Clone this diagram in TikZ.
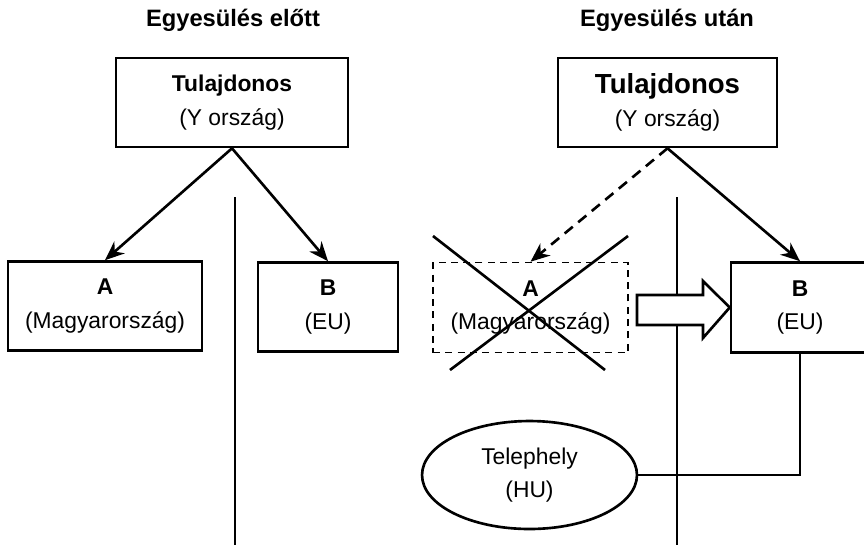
\documentclass[tikz,border=0pt]{standalone}
\usepackage{fontspec}
\setmainfont{Liberation Sans}
\usetikzlibrary{arrows.meta, shapes.geometric}

\tikzset{
  doboz/.style={draw, line width=1.5pt, inner sep=0pt, align=center,
    font=\fontsize{13}{19}\selectfont},
  cim/.style={font=\fontsize{13.5}{16}\selectfont\bfseries},
  vonal/.style={line width=1.5pt},
  nyil/.style={-{Stealth[length=11pt,width=9pt]}, line width=1.5pt},
}

\begin{document}
\begin{tikzpicture}[x=0.02cm, y=-0.02cm]
    \useasboundingbox (0,0) rectangle (864,545);
    % címek
    \node[cim] (cimL) at (233,20) {Egyesülés előtt};
    \node[cim] (cimR) at (667,20) {Egyesülés után};
    % elválasztó vonalak
    \draw[vonal] (235,197) -- (235,545);
    \draw[vonal] (677,197) -- (677,545);
    % egyesülés előtt
    \node[doboz, minimum width=4.64cm, minimum height=1.78cm] (tulL) at (232,102.5)
      {{\bfseries Tulajdonos}\\(Y ország)};
    \node[doboz, minimum width=3.88cm, minimum height=1.78cm] (aL) at (105,306)
      {{\bfseries A}\\(Magyarország)};
    \node[doboz, minimum width=2.8cm, minimum height=1.78cm] (bL) at (328,307)
      {{\bfseries B}\\(EU)};
    \draw[nyil] (tulL.south) -- (aL.north);
    \draw[nyil] (tulL.south) -- (bL.north);
    % egyesülés után
    \node[doboz, minimum width=4.38cm, minimum height=1.78cm] (tulR) at (667.5,102.5)
      {{\fontsize{15.7}{19}\selectfont\bfseries Tulajdonos}\\(Y ország)};
    \node[doboz, dashed, line width=0.9pt, dash pattern=on 4pt off 3pt,
      minimum width=3.9cm, minimum height=1.8cm] (aR) at (530.5,307.5)
      {{\bfseries A}\\(Magyarország)};
    \node[doboz, minimum width=2.76cm, minimum height=1.8cm, fill=white] (bR) at (800,307.5)
      {{\bfseries B}\\(EU)};
    \node[doboz, ellipse, minimum width=4.3cm, minimum height=2.16cm] (telep) at (529.5,475)
      {Telephely\\(HU)};
    \draw[nyil, dash pattern=on 6pt off 4pt] (tulR.south) -- (aR.north);
    \draw[nyil] (tulR.south) -- (bR.north);
    % áthúzás
    \draw[vonal] (433,236) -- (605,370);
    \draw[vonal] (628,236) -- (450,370);
    % átalakulás nyíl
    \draw[vonal, fill=white] (637,295) -- (703,295) -- (703,281)
      -- (bR.west) -- (703,338) -- (703,325) -- (637,325) -- cycle;
    % telephely kapcsolat
    \draw[vonal] (bR.south) |- (telep.east);
\end{tikzpicture}
\end{document}
